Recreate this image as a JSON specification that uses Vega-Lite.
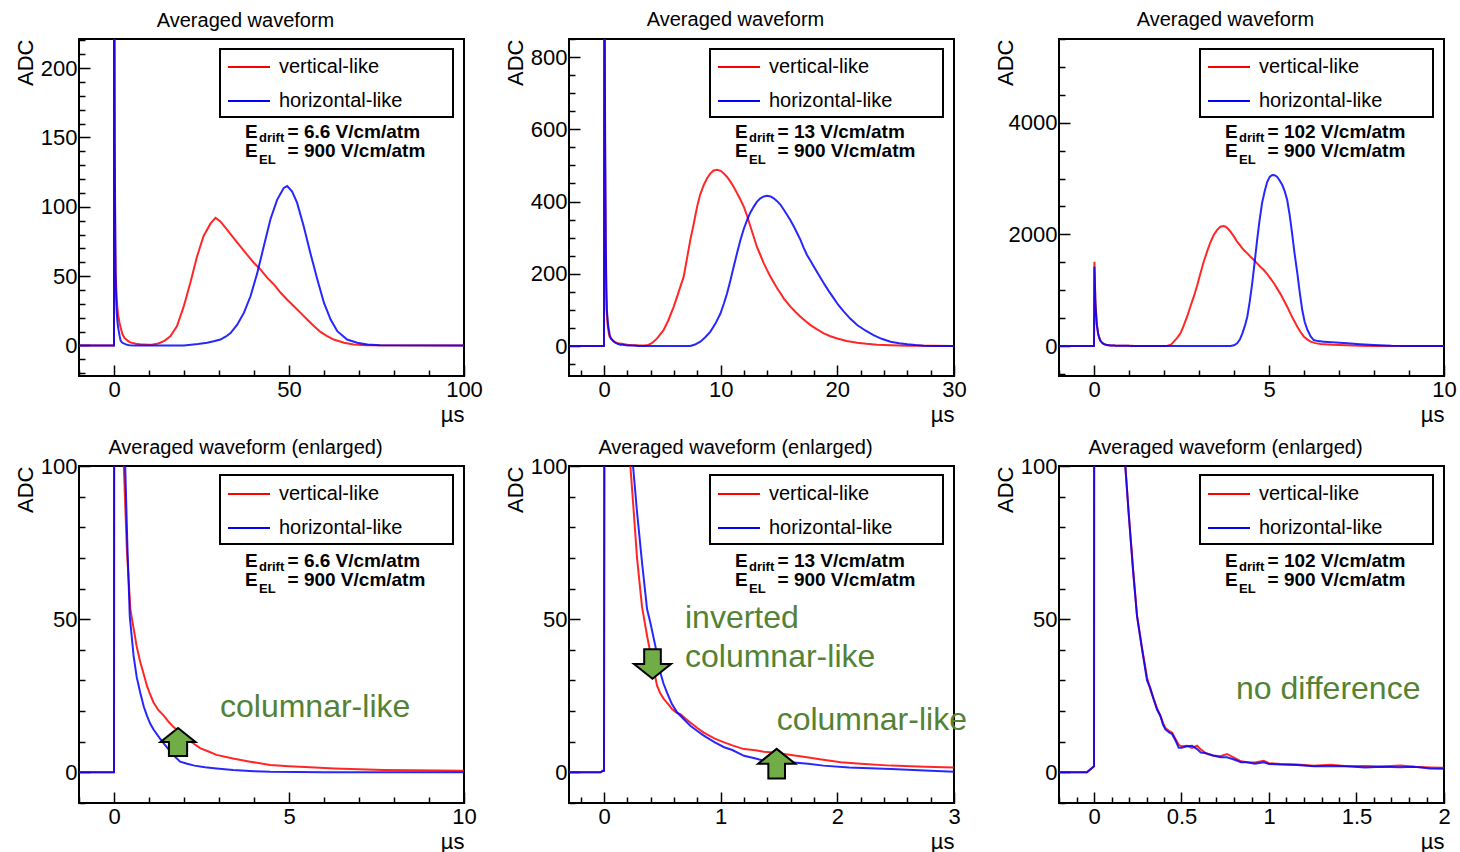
{
"$schema":"https://vega.github.io/schema/vega-lite/v6.json",
"background":"white",
"padding":{"left":13,"top":9,"right":10,"bottom":10},
"columns":3,
"spacing":{"row":90,"column":105},
"bounds":"flush",
"resolve":{"scale":{"color":"independent"},"legend":{"color":"independent"}},
"datasets":{
"f66":[
{"t":-10,"a":0,"s":"vertical-like"},{"t":0,"a":0,"s":"vertical-like"},{"t":0.02,"a":500,"s":"vertical-like"},{"t":0.1,"a":250,"s":"vertical-like"},{"t":0.2,"a":140,"s":"vertical-like"},{"t":0.28,"a":100,"s":"vertical-like"},{"t":0.37,"a":72,"s":"vertical-like"},{"t":0.47,"a":53,"s":"vertical-like"},{"t":0.56,"a":47,"s":"vertical-like"},{"t":0.65,"a":41,"s":"vertical-like"},{"t":0.75,"a":36,"s":"vertical-like"},{"t":0.85,"a":32,"s":"vertical-like"},{"t":0.94,"a":28.3,"s":"vertical-like"},{"t":1.03,"a":25.5,"s":"vertical-like"},{"t":1.13,"a":22.8,"s":"vertical-like"},{"t":1.27,"a":20.3,"s":"vertical-like"},{"t":1.41,"a":18.7,"s":"vertical-like"},{"t":1.56,"a":16.5,"s":"vertical-like"},{"t":1.71,"a":14.7,"s":"vertical-like"},{"t":1.98,"a":12.2,"s":"vertical-like"},{"t":2.2,"a":10,"s":"vertical-like"},{"t":2.46,"a":7.9,"s":"vertical-like"},{"t":2.7,"a":6.8,"s":"vertical-like"},{"t":2.93,"a":5.7,"s":"vertical-like"},{"t":3.4,"a":4.5,"s":"vertical-like"},{"t":3.89,"a":3.5,"s":"vertical-like"},{"t":4.46,"a":2.4,"s":"vertical-like"},{"t":5,"a":2,"s":"vertical-like"},{"t":5.6,"a":1.7,"s":"vertical-like"},{"t":6.3,"a":1.3,"s":"vertical-like"},{"t":7,"a":1,"s":"vertical-like"},{"t":7.7,"a":0.8,"s":"vertical-like"},{"t":8.5,"a":0.7,"s":"vertical-like"},{"t":10,"a":0.5,"s":"vertical-like"},{"t":11,"a":0.7,"s":"vertical-like"},{"t":12,"a":1,"s":"vertical-like"},{"t":13.2,"a":2,"s":"vertical-like"},{"t":14.5,"a":3.5,"s":"vertical-like"},{"t":16.1,"a":6.7,"s":"vertical-like"},{"t":18,"a":14,"s":"vertical-like"},{"t":19.9,"a":28,"s":"vertical-like"},{"t":21.8,"a":45,"s":"vertical-like"},{"t":23.7,"a":64,"s":"vertical-like"},{"t":25.6,"a":79,"s":"vertical-like"},{"t":27.6,"a":88,"s":"vertical-like"},{"t":29,"a":92,"s":"vertical-like"},{"t":30.4,"a":89.5,"s":"vertical-like"},{"t":32.3,"a":83.5,"s":"vertical-like"},{"t":34.2,"a":77.5,"s":"vertical-like"},{"t":36.1,"a":71.5,"s":"vertical-like"},{"t":38,"a":65.5,"s":"vertical-like"},{"t":40,"a":59.5,"s":"vertical-like"},{"t":41.9,"a":54.7,"s":"vertical-like"},{"t":43.8,"a":48.7,"s":"vertical-like"},{"t":45.7,"a":44,"s":"vertical-like"},{"t":47.6,"a":38,"s":"vertical-like"},{"t":49.5,"a":33,"s":"vertical-like"},{"t":51.4,"a":28.3,"s":"vertical-like"},{"t":53.3,"a":23.5,"s":"vertical-like"},{"t":55.2,"a":18.7,"s":"vertical-like"},{"t":57.1,"a":14,"s":"vertical-like"},{"t":59,"a":9.8,"s":"vertical-like"},{"t":60.9,"a":6.7,"s":"vertical-like"},{"t":62.8,"a":4.3,"s":"vertical-like"},{"t":65.7,"a":2,"s":"vertical-like"},{"t":68.5,"a":0.7,"s":"vertical-like"},{"t":72,"a":0.2,"s":"vertical-like"},{"t":100,"a":0,"s":"vertical-like"},
{"t":-10,"a":0,"s":"horizontal-like"},{"t":0,"a":0,"s":"horizontal-like"},{"t":0.02,"a":600,"s":"horizontal-like"},{"t":0.1,"a":300,"s":"horizontal-like"},{"t":0.2,"a":150,"s":"horizontal-like"},{"t":0.32,"a":100,"s":"horizontal-like"},{"t":0.38,"a":75,"s":"horizontal-like"},{"t":0.45,"a":51,"s":"horizontal-like"},{"t":0.56,"a":38,"s":"horizontal-like"},{"t":0.65,"a":31,"s":"horizontal-like"},{"t":0.75,"a":26,"s":"horizontal-like"},{"t":0.85,"a":21.5,"s":"horizontal-like"},{"t":0.94,"a":18.5,"s":"horizontal-like"},{"t":1.03,"a":16,"s":"horizontal-like"},{"t":1.13,"a":14,"s":"horizontal-like"},{"t":1.31,"a":11.1,"s":"horizontal-like"},{"t":1.42,"a":9.5,"s":"horizontal-like"},{"t":1.56,"a":7.5,"s":"horizontal-like"},{"t":1.71,"a":5.5,"s":"horizontal-like"},{"t":1.89,"a":3.5,"s":"horizontal-like"},{"t":2.09,"a":2.8,"s":"horizontal-like"},{"t":2.3,"a":2.2,"s":"horizontal-like"},{"t":2.6,"a":1.7,"s":"horizontal-like"},{"t":2.93,"a":1.3,"s":"horizontal-like"},{"t":3.4,"a":0.8,"s":"horizontal-like"},{"t":4,"a":0.4,"s":"horizontal-like"},{"t":4.46,"a":0.2,"s":"horizontal-like"},{"t":6,"a":0,"s":"horizontal-like"},{"t":20,"a":0,"s":"horizontal-like"},{"t":24,"a":1,"s":"horizontal-like"},{"t":26.6,"a":2,"s":"horizontal-like"},{"t":28.5,"a":3,"s":"horizontal-like"},{"t":30.4,"a":4.3,"s":"horizontal-like"},{"t":32,"a":6.5,"s":"horizontal-like"},{"t":33.3,"a":9,"s":"horizontal-like"},{"t":35.2,"a":15,"s":"horizontal-like"},{"t":37.1,"a":23.5,"s":"horizontal-like"},{"t":39,"a":35.5,"s":"horizontal-like"},{"t":40.9,"a":52,"s":"horizontal-like"},{"t":42.8,"a":71.5,"s":"horizontal-like"},{"t":44.7,"a":91,"s":"horizontal-like"},{"t":46.6,"a":105,"s":"horizontal-like"},{"t":48.5,"a":113.6,"s":"horizontal-like"},{"t":49.5,"a":115,"s":"horizontal-like"},{"t":50.9,"a":111,"s":"horizontal-like"},{"t":52.3,"a":103,"s":"horizontal-like"},{"t":54.2,"a":86,"s":"horizontal-like"},{"t":56.1,"a":66.7,"s":"horizontal-like"},{"t":58.1,"a":47.5,"s":"horizontal-like"},{"t":60,"a":30.7,"s":"horizontal-like"},{"t":61.9,"a":18.7,"s":"horizontal-like"},{"t":63.8,"a":10.3,"s":"horizontal-like"},{"t":66.6,"a":4.3,"s":"horizontal-like"},{"t":69.5,"a":2,"s":"horizontal-like"},{"t":72.4,"a":0.7,"s":"horizontal-like"},{"t":76,"a":0.2,"s":"horizontal-like"},{"t":100,"a":0,"s":"horizontal-like"}
],
"f13":[
{"t":-3,"a":0,"s":"vertical-like"},{"t":-0.03,"a":0,"s":"vertical-like"},{"t":-0.01,"a":0.5,"s":"vertical-like"},{"t":0,"a":0.5,"s":"vertical-like"},{"t":0.03,"a":1100,"s":"vertical-like"},{"t":0.1,"a":500,"s":"vertical-like"},{"t":0.15,"a":260,"s":"vertical-like"},{"t":0.2,"a":140,"s":"vertical-like"},{"t":0.226,"a":100,"s":"vertical-like"},{"t":0.255,"a":85,"s":"vertical-like"},{"t":0.283,"a":70,"s":"vertical-like"},{"t":0.326,"a":54,"s":"vertical-like"},{"t":0.369,"a":44.6,"s":"vertical-like"},{"t":0.417,"a":35.3,"s":"vertical-like"},{"t":0.455,"a":28.3,"s":"vertical-like"},{"t":0.48,"a":26,"s":"vertical-like"},{"t":0.512,"a":24,"s":"vertical-like"},{"t":0.545,"a":22.5,"s":"vertical-like"},{"t":0.583,"a":20.7,"s":"vertical-like"},{"t":0.62,"a":19.5,"s":"vertical-like"},{"t":0.655,"a":19,"s":"vertical-like"},{"t":0.7,"a":17.5,"s":"vertical-like"},{"t":0.74,"a":16.3,"s":"vertical-like"},{"t":0.8,"a":14.5,"s":"vertical-like"},{"t":0.855,"a":13,"s":"vertical-like"},{"t":0.95,"a":11,"s":"vertical-like"},{"t":1.03,"a":9.8,"s":"vertical-like"},{"t":1.1,"a":8.8,"s":"vertical-like"},{"t":1.2,"a":7.6,"s":"vertical-like"},{"t":1.3,"a":7.2,"s":"vertical-like"},{"t":1.37,"a":6.7,"s":"vertical-like"},{"t":1.45,"a":6.5,"s":"vertical-like"},{"t":1.54,"a":6,"s":"vertical-like"},{"t":1.65,"a":5.4,"s":"vertical-like"},{"t":1.74,"a":4.9,"s":"vertical-like"},{"t":1.85,"a":4.3,"s":"vertical-like"},{"t":2.03,"a":3.3,"s":"vertical-like"},{"t":2.2,"a":2.8,"s":"vertical-like"},{"t":2.46,"a":2.2,"s":"vertical-like"},{"t":2.75,"a":1.8,"s":"vertical-like"},{"t":3,"a":1.6,"s":"vertical-like"},{"t":3.4,"a":1.5,"s":"vertical-like"},{"t":3.7,"a":2,"s":"vertical-like"},{"t":4.1,"a":8,"s":"vertical-like"},{"t":4.55,"a":21,"s":"vertical-like"},{"t":5.1,"a":44,"s":"vertical-like"},{"t":5.5,"a":70,"s":"vertical-like"},{"t":5.98,"a":109,"s":"vertical-like"},{"t":6.4,"a":150,"s":"vertical-like"},{"t":6.83,"a":192,"s":"vertical-like"},{"t":7.1,"a":240,"s":"vertical-like"},{"t":7.4,"a":294,"s":"vertical-like"},{"t":7.7,"a":340,"s":"vertical-like"},{"t":7.98,"a":386,"s":"vertical-like"},{"t":8.25,"a":420,"s":"vertical-like"},{"t":8.55,"a":446,"s":"vertical-like"},{"t":8.85,"a":465,"s":"vertical-like"},{"t":9.12,"a":478,"s":"vertical-like"},{"t":9.4,"a":486,"s":"vertical-like"},{"t":9.7,"a":488,"s":"vertical-like"},{"t":10,"a":485,"s":"vertical-like"},{"t":10.27,"a":478,"s":"vertical-like"},{"t":10.55,"a":468,"s":"vertical-like"},{"t":10.84,"a":455,"s":"vertical-like"},{"t":11.12,"a":440,"s":"vertical-like"},{"t":11.41,"a":423,"s":"vertical-like"},{"t":11.7,"a":405,"s":"vertical-like"},{"t":11.98,"a":386,"s":"vertical-like"},{"t":12.27,"a":360,"s":"vertical-like"},{"t":12.55,"a":331,"s":"vertical-like"},{"t":12.84,"a":302,"s":"vertical-like"},{"t":13.1,"a":275,"s":"vertical-like"},{"t":13.4,"a":252,"s":"vertical-like"},{"t":13.7,"a":229,"s":"vertical-like"},{"t":13.98,"a":210,"s":"vertical-like"},{"t":14.27,"a":192,"s":"vertical-like"},{"t":14.55,"a":176,"s":"vertical-like"},{"t":14.84,"a":160,"s":"vertical-like"},{"t":15.13,"a":146,"s":"vertical-like"},{"t":15.4,"a":132,"s":"vertical-like"},{"t":15.7,"a":120,"s":"vertical-like"},{"t":15.98,"a":109,"s":"vertical-like"},{"t":16.4,"a":95,"s":"vertical-like"},{"t":16.84,"a":81,"s":"vertical-like"},{"t":17.27,"a":69,"s":"vertical-like"},{"t":17.7,"a":58,"s":"vertical-like"},{"t":18.27,"a":46,"s":"vertical-like"},{"t":18.84,"a":35,"s":"vertical-like"},{"t":19.4,"a":27,"s":"vertical-like"},{"t":20,"a":21,"s":"vertical-like"},{"t":20.8,"a":14,"s":"vertical-like"},{"t":21.7,"a":9,"s":"vertical-like"},{"t":22.5,"a":6,"s":"vertical-like"},{"t":23.4,"a":3.7,"s":"vertical-like"},{"t":24.6,"a":2,"s":"vertical-like"},{"t":26,"a":1,"s":"vertical-like"},{"t":28,"a":0.5,"s":"vertical-like"},{"t":30,"a":0,"s":"vertical-like"},
{"t":-3,"a":0,"s":"horizontal-like"},{"t":-0.03,"a":0,"s":"horizontal-like"},{"t":-0.01,"a":0.5,"s":"horizontal-like"},{"t":0,"a":0.5,"s":"horizontal-like"},{"t":0.03,"a":1200,"s":"horizontal-like"},{"t":0.1,"a":560,"s":"horizontal-like"},{"t":0.15,"a":300,"s":"horizontal-like"},{"t":0.2,"a":160,"s":"horizontal-like"},{"t":0.249,"a":100,"s":"horizontal-like"},{"t":0.283,"a":85,"s":"horizontal-like"},{"t":0.326,"a":68.5,"s":"horizontal-like"},{"t":0.369,"a":53.3,"s":"horizontal-like"},{"t":0.397,"a":48.9,"s":"horizontal-like"},{"t":0.44,"a":41.3,"s":"horizontal-like"},{"t":0.483,"a":32.6,"s":"horizontal-like"},{"t":0.51,"a":29,"s":"horizontal-like"},{"t":0.54,"a":26,"s":"horizontal-like"},{"t":0.58,"a":22.5,"s":"horizontal-like"},{"t":0.626,"a":19.6,"s":"horizontal-like"},{"t":0.68,"a":17.5,"s":"horizontal-like"},{"t":0.74,"a":15.2,"s":"horizontal-like"},{"t":0.8,"a":13.5,"s":"horizontal-like"},{"t":0.855,"a":12,"s":"horizontal-like"},{"t":0.95,"a":9.8,"s":"horizontal-like"},{"t":1.03,"a":8.2,"s":"horizontal-like"},{"t":1.1,"a":7.3,"s":"horizontal-like"},{"t":1.2,"a":5.4,"s":"horizontal-like"},{"t":1.3,"a":4.5,"s":"horizontal-like"},{"t":1.37,"a":3.8,"s":"horizontal-like"},{"t":1.45,"a":3.5,"s":"horizontal-like"},{"t":1.6,"a":3.3,"s":"horizontal-like"},{"t":1.75,"a":2.8,"s":"horizontal-like"},{"t":1.88,"a":2.2,"s":"horizontal-like"},{"t":2.1,"a":1.6,"s":"horizontal-like"},{"t":2.46,"a":1.1,"s":"horizontal-like"},{"t":2.75,"a":0.6,"s":"horizontal-like"},{"t":3,"a":0.2,"s":"horizontal-like"},{"t":4,"a":0,"s":"horizontal-like"},{"t":7.4,"a":0,"s":"horizontal-like"},{"t":7.8,"a":4,"s":"horizontal-like"},{"t":8.26,"a":12,"s":"horizontal-like"},{"t":8.7,"a":25,"s":"horizontal-like"},{"t":9.12,"a":40,"s":"horizontal-like"},{"t":9.55,"a":62,"s":"horizontal-like"},{"t":9.98,"a":90,"s":"horizontal-like"},{"t":10.27,"a":117,"s":"horizontal-like"},{"t":10.55,"a":146,"s":"horizontal-like"},{"t":10.84,"a":182,"s":"horizontal-like"},{"t":11.12,"a":220,"s":"horizontal-like"},{"t":11.41,"a":258,"s":"horizontal-like"},{"t":11.7,"a":294,"s":"horizontal-like"},{"t":11.98,"a":324,"s":"horizontal-like"},{"t":12.27,"a":349,"s":"horizontal-like"},{"t":12.55,"a":370,"s":"horizontal-like"},{"t":12.84,"a":386,"s":"horizontal-like"},{"t":13.1,"a":399,"s":"horizontal-like"},{"t":13.4,"a":409,"s":"horizontal-like"},{"t":13.7,"a":414,"s":"horizontal-like"},{"t":13.98,"a":416,"s":"horizontal-like"},{"t":14.27,"a":414,"s":"horizontal-like"},{"t":14.55,"a":409,"s":"horizontal-like"},{"t":14.84,"a":401,"s":"horizontal-like"},{"t":15.13,"a":391,"s":"horizontal-like"},{"t":15.4,"a":378,"s":"horizontal-like"},{"t":15.7,"a":363,"s":"horizontal-like"},{"t":15.98,"a":348,"s":"horizontal-like"},{"t":16.27,"a":331,"s":"horizontal-like"},{"t":16.55,"a":313,"s":"horizontal-like"},{"t":16.84,"a":294,"s":"horizontal-like"},{"t":17.1,"a":273,"s":"horizontal-like"},{"t":17.4,"a":252,"s":"horizontal-like"},{"t":17.7,"a":236,"s":"horizontal-like"},{"t":17.98,"a":220,"s":"horizontal-like"},{"t":18.4,"a":197,"s":"horizontal-like"},{"t":18.84,"a":174,"s":"horizontal-like"},{"t":19.27,"a":152,"s":"horizontal-like"},{"t":19.7,"a":132,"s":"horizontal-like"},{"t":20.1,"a":113,"s":"horizontal-like"},{"t":20.56,"a":95,"s":"horizontal-like"},{"t":21.1,"a":76,"s":"horizontal-like"},{"t":21.7,"a":58,"s":"horizontal-like"},{"t":22.4,"a":43,"s":"horizontal-like"},{"t":23.1,"a":30,"s":"horizontal-like"},{"t":23.8,"a":20,"s":"horizontal-like"},{"t":24.56,"a":12,"s":"horizontal-like"},{"t":25.3,"a":7.5,"s":"horizontal-like"},{"t":26,"a":4.6,"s":"horizontal-like"},{"t":26.7,"a":2.5,"s":"horizontal-like"},{"t":27.4,"a":1,"s":"horizontal-like"},{"t":28.5,"a":0.3,"s":"horizontal-like"},{"t":30,"a":0,"s":"horizontal-like"}
],
"f102":[
{"t":-1,"a":0,"s":"vertical-like"},{"t":-0.04,"a":0,"s":"vertical-like"},{"t":-0.01,"a":1.5,"s":"vertical-like"},{"t":0,"a":2,"s":"vertical-like"},{"t":0.012,"a":1510,"s":"vertical-like"},{"t":0.04,"a":800,"s":"vertical-like"},{"t":0.08,"a":400,"s":"vertical-like"},{"t":0.12,"a":220,"s":"vertical-like"},{"t":0.15,"a":150,"s":"vertical-like"},{"t":0.179,"a":100,"s":"vertical-like"},{"t":0.198,"a":85,"s":"vertical-like"},{"t":0.223,"a":66.5,"s":"vertical-like"},{"t":0.246,"a":51,"s":"vertical-like"},{"t":0.275,"a":40.5,"s":"vertical-like"},{"t":0.303,"a":31,"s":"vertical-like"},{"t":0.322,"a":27,"s":"vertical-like"},{"t":0.341,"a":24,"s":"vertical-like"},{"t":0.36,"a":21,"s":"vertical-like"},{"t":0.379,"a":18.5,"s":"vertical-like"},{"t":0.395,"a":16,"s":"vertical-like"},{"t":0.408,"a":14.5,"s":"vertical-like"},{"t":0.43,"a":13.5,"s":"vertical-like"},{"t":0.446,"a":13,"s":"vertical-like"},{"t":0.465,"a":11,"s":"vertical-like"},{"t":0.484,"a":9,"s":"vertical-like"},{"t":0.5,"a":8.5,"s":"vertical-like"},{"t":0.532,"a":8.7,"s":"vertical-like"},{"t":0.56,"a":8,"s":"vertical-like"},{"t":0.589,"a":8.7,"s":"vertical-like"},{"t":0.61,"a":7.5,"s":"vertical-like"},{"t":0.646,"a":6,"s":"vertical-like"},{"t":0.68,"a":5.5,"s":"vertical-like"},{"t":0.723,"a":5.3,"s":"vertical-like"},{"t":0.76,"a":6,"s":"vertical-like"},{"t":0.8,"a":4.8,"s":"vertical-like"},{"t":0.84,"a":3.6,"s":"vertical-like"},{"t":0.875,"a":3.3,"s":"vertical-like"},{"t":0.92,"a":3.2,"s":"vertical-like"},{"t":0.97,"a":3.8,"s":"vertical-like"},{"t":1,"a":3,"s":"vertical-like"},{"t":1.066,"a":2.7,"s":"vertical-like"},{"t":1.16,"a":2.6,"s":"vertical-like"},{"t":1.256,"a":2.2,"s":"vertical-like"},{"t":1.35,"a":2.5,"s":"vertical-like"},{"t":1.447,"a":2,"s":"vertical-like"},{"t":1.55,"a":2.1,"s":"vertical-like"},{"t":1.64,"a":1.9,"s":"vertical-like"},{"t":1.75,"a":2.2,"s":"vertical-like"},{"t":1.83,"a":1.8,"s":"vertical-like"},{"t":1.92,"a":1.6,"s":"vertical-like"},{"t":2,"a":1.5,"s":"vertical-like"},{"t":2.1,"a":5,"s":"vertical-like"},{"t":2.2,"a":25,"s":"vertical-like"},{"t":2.28,"a":78,"s":"vertical-like"},{"t":2.37,"a":140,"s":"vertical-like"},{"t":2.47,"a":227,"s":"vertical-like"},{"t":2.56,"a":360,"s":"vertical-like"},{"t":2.66,"a":525,"s":"vertical-like"},{"t":2.75,"a":700,"s":"vertical-like"},{"t":2.85,"a":884,"s":"vertical-like"},{"t":2.95,"a":1090,"s":"vertical-like"},{"t":3.04,"a":1301,"s":"vertical-like"},{"t":3.13,"a":1500,"s":"vertical-like"},{"t":3.23,"a":1690,"s":"vertical-like"},{"t":3.32,"a":1850,"s":"vertical-like"},{"t":3.42,"a":1988,"s":"vertical-like"},{"t":3.52,"a":2080,"s":"vertical-like"},{"t":3.61,"a":2137,"s":"vertical-like"},{"t":3.7,"a":2150,"s":"vertical-like"},{"t":3.76,"a":2137,"s":"vertical-like"},{"t":3.83,"a":2100,"s":"vertical-like"},{"t":3.9,"a":2048,"s":"vertical-like"},{"t":4,"a":1960,"s":"vertical-like"},{"t":4.09,"a":1869,"s":"vertical-like"},{"t":4.19,"a":1790,"s":"vertical-like"},{"t":4.28,"a":1719,"s":"vertical-like"},{"t":4.38,"a":1660,"s":"vertical-like"},{"t":4.47,"a":1600,"s":"vertical-like"},{"t":4.57,"a":1540,"s":"vertical-like"},{"t":4.66,"a":1481,"s":"vertical-like"},{"t":4.75,"a":1420,"s":"vertical-like"},{"t":4.85,"a":1361,"s":"vertical-like"},{"t":4.95,"a":1290,"s":"vertical-like"},{"t":5.04,"a":1212,"s":"vertical-like"},{"t":5.14,"a":1125,"s":"vertical-like"},{"t":5.23,"a":1033,"s":"vertical-like"},{"t":5.33,"a":930,"s":"vertical-like"},{"t":5.42,"a":824,"s":"vertical-like"},{"t":5.52,"a":705,"s":"vertical-like"},{"t":5.61,"a":585,"s":"vertical-like"},{"t":5.71,"a":460,"s":"vertical-like"},{"t":5.81,"a":346,"s":"vertical-like"},{"t":5.9,"a":250,"s":"vertical-like"},{"t":6,"a":167,"s":"vertical-like"},{"t":6.1,"a":115,"s":"vertical-like"},{"t":6.19,"a":78,"s":"vertical-like"},{"t":6.33,"a":52,"s":"vertical-like"},{"t":6.47,"a":36,"s":"vertical-like"},{"t":6.8,"a":22,"s":"vertical-like"},{"t":7.2,"a":12,"s":"vertical-like"},{"t":7.6,"a":6,"s":"vertical-like"},{"t":8,"a":2,"s":"vertical-like"},{"t":8.5,"a":0,"s":"vertical-like"},{"t":10,"a":0,"s":"vertical-like"},
{"t":-1,"a":0,"s":"horizontal-like"},{"t":-0.04,"a":0,"s":"horizontal-like"},{"t":-0.01,"a":1.5,"s":"horizontal-like"},{"t":0,"a":2,"s":"horizontal-like"},{"t":0.012,"a":1420,"s":"horizontal-like"},{"t":0.04,"a":760,"s":"horizontal-like"},{"t":0.08,"a":380,"s":"horizontal-like"},{"t":0.12,"a":210,"s":"horizontal-like"},{"t":0.15,"a":145,"s":"horizontal-like"},{"t":0.179,"a":100,"s":"horizontal-like"},{"t":0.198,"a":84.5,"s":"horizontal-like"},{"t":0.223,"a":66,"s":"horizontal-like"},{"t":0.246,"a":51,"s":"horizontal-like"},{"t":0.275,"a":40,"s":"horizontal-like"},{"t":0.303,"a":30,"s":"horizontal-like"},{"t":0.322,"a":27.5,"s":"horizontal-like"},{"t":0.341,"a":23.8,"s":"horizontal-like"},{"t":0.36,"a":20.5,"s":"horizontal-like"},{"t":0.379,"a":18.5,"s":"horizontal-like"},{"t":0.395,"a":15.5,"s":"horizontal-like"},{"t":0.408,"a":14,"s":"horizontal-like"},{"t":0.43,"a":13,"s":"horizontal-like"},{"t":0.446,"a":12.5,"s":"horizontal-like"},{"t":0.465,"a":10.5,"s":"horizontal-like"},{"t":0.484,"a":8,"s":"horizontal-like"},{"t":0.5,"a":8,"s":"horizontal-like"},{"t":0.532,"a":8.5,"s":"horizontal-like"},{"t":0.56,"a":8.7,"s":"horizontal-like"},{"t":0.589,"a":7.6,"s":"horizontal-like"},{"t":0.61,"a":6.5,"s":"horizontal-like"},{"t":0.646,"a":6.2,"s":"horizontal-like"},{"t":0.68,"a":5.5,"s":"horizontal-like"},{"t":0.723,"a":4.9,"s":"horizontal-like"},{"t":0.76,"a":4.9,"s":"horizontal-like"},{"t":0.8,"a":4.2,"s":"horizontal-like"},{"t":0.84,"a":3.3,"s":"horizontal-like"},{"t":0.875,"a":3.3,"s":"horizontal-like"},{"t":0.92,"a":2.8,"s":"horizontal-like"},{"t":0.97,"a":3.3,"s":"horizontal-like"},{"t":1,"a":2.7,"s":"horizontal-like"},{"t":1.066,"a":2.6,"s":"horizontal-like"},{"t":1.16,"a":2.4,"s":"horizontal-like"},{"t":1.256,"a":2,"s":"horizontal-like"},{"t":1.35,"a":2.1,"s":"horizontal-like"},{"t":1.447,"a":2,"s":"horizontal-like"},{"t":1.55,"a":1.6,"s":"horizontal-like"},{"t":1.64,"a":1.8,"s":"horizontal-like"},{"t":1.75,"a":1.7,"s":"horizontal-like"},{"t":1.83,"a":1.8,"s":"horizontal-like"},{"t":1.92,"a":1.3,"s":"horizontal-like"},{"t":2,"a":1.2,"s":"horizontal-like"},{"t":2.5,"a":0.6,"s":"horizontal-like"},{"t":3,"a":0.3,"s":"horizontal-like"},{"t":3.9,"a":0,"s":"horizontal-like"},{"t":4,"a":12,"s":"horizontal-like"},{"t":4.09,"a":48,"s":"horizontal-like"},{"t":4.17,"a":120,"s":"horizontal-like"},{"t":4.24,"a":227,"s":"horizontal-like"},{"t":4.31,"a":360,"s":"horizontal-like"},{"t":4.38,"a":525,"s":"horizontal-like"},{"t":4.45,"a":800,"s":"horizontal-like"},{"t":4.52,"a":1122,"s":"horizontal-like"},{"t":4.59,"a":1500,"s":"horizontal-like"},{"t":4.66,"a":1898,"s":"horizontal-like"},{"t":4.73,"a":2250,"s":"horizontal-like"},{"t":4.8,"a":2555,"s":"horizontal-like"},{"t":4.88,"a":2780,"s":"horizontal-like"},{"t":4.95,"a":2943,"s":"horizontal-like"},{"t":5.02,"a":3030,"s":"horizontal-like"},{"t":5.09,"a":3063,"s":"horizontal-like"},{"t":5.16,"a":3060,"s":"horizontal-like"},{"t":5.23,"a":3033,"s":"horizontal-like"},{"t":5.3,"a":2970,"s":"horizontal-like"},{"t":5.38,"a":2884,"s":"horizontal-like"},{"t":5.45,"a":2770,"s":"horizontal-like"},{"t":5.52,"a":2615,"s":"horizontal-like"},{"t":5.59,"a":2350,"s":"horizontal-like"},{"t":5.66,"a":2018,"s":"horizontal-like"},{"t":5.73,"a":1660,"s":"horizontal-like"},{"t":5.81,"a":1301,"s":"horizontal-like"},{"t":5.88,"a":950,"s":"horizontal-like"},{"t":5.95,"a":645,"s":"horizontal-like"},{"t":6.02,"a":430,"s":"horizontal-like"},{"t":6.1,"a":287,"s":"horizontal-like"},{"t":6.19,"a":170,"s":"horizontal-like"},{"t":6.28,"a":107,"s":"horizontal-like"},{"t":6.4,"a":88,"s":"horizontal-like"},{"t":6.57,"a":78,"s":"horizontal-like"},{"t":6.9,"a":62,"s":"horizontal-like"},{"t":7.24,"a":48,"s":"horizontal-like"},{"t":7.6,"a":32,"s":"horizontal-like"},{"t":8,"a":18,"s":"horizontal-like"},{"t":8.5,"a":5,"s":"horizontal-like"},{"t":9,"a":0,"s":"horizontal-like"},{"t":10,"a":0,"s":"horizontal-like"}
]
},
"concat":[
{"title":"Averaged waveform","width":385,"height":337,"layer":[
 {"data":{"name":"f66"},"mark":{"type":"line","clip":true,"strokeWidth":2,"strokeOpacity":0.85},
  "encoding":{
   "x":{"field":"t","type":"quantitative","scale":{"domain":[-10,100],"nice":false,"zero":false},"axis":{"title":"µs","tickCount":500,"labelOverlap":false,"values":[-10,0,10,20,30,40,50,60,70,80,90,100],"labelExpr":"indexof([0,50,100], datum.value) >= 0 ? '' + datum.value : ''","labelFontSize":{"condition":{"test":"indexof([0,50,100], datum.value) >= 0","value":22},"value":0},"tickSize":{"condition":{"test":"indexof([0,50,100], datum.value) >= 0","value":-11},"value":-6}}},
   "y":{"field":"a","type":"quantitative","scale":{"domain":[-22,221],"nice":false,"zero":false},"axis":{"title":"ADC","tickCount":500,"labelOverlap":false,"values":[-20,-10,0,10,20,30,40,50,60,70,80,90,100,110,120,130,140,150,160,170,180,190,200,210,220],"labelExpr":"indexof([0,50,100,150,200], datum.value) >= 0 ? '' + datum.value : ''","labelFontSize":{"condition":{"test":"indexof([0,50,100,150,200], datum.value) >= 0","value":22},"value":0},"tickSize":{"condition":{"test":"indexof([0,50,100,150,200], datum.value) >= 0","value":-11},"value":-6}}},
   "color":{"field":"s","type":"nominal","scale":{"domain":["vertical-like","horizontal-like"],"range":["#ff0000","#0000ff"]},"legend":{"title":null,"orient":"none","legendX":141,"legendY":8,"symbolType":"M-1.4,0H1.4","symbolSize":900,"symbolStrokeWidth":2,"labelFontSize":20,"labelLimit":400,"labelOffset":14,"symbolOffset":9,"padding":4,"rowPadding":8,"strokeColor":"transparent","fillColor":"transparent"}}}},
 {"data":{"values":[{}]},"mark":{"type":"rect","fill":"#fff","stroke":"#000","strokeWidth":2},"encoding":{"x":{"datum":30.29},"x2":{"datum":96.86},"y":{"datum":213.79},"y2":{"datum":164.76}}},
 {"data":{"values":[{}]},"mark":{"type":"text","text":["E","E"],"fontSize":19,"fontWeight":"bold","align":"left","baseline":"alphabetic","lineHeight":19},"encoding":{"x":{"datum":37.43},"y":{"datum":149.8}}},
 {"data":{"values":[{}]},"mark":{"type":"text","text":["drift","EL"],"fontSize":13,"fontWeight":"bold","align":"left","baseline":"alphabetic","lineHeight":22,"dx":14,"dy":4},"encoding":{"x":{"datum":37.43},"y":{"datum":149.8}}},
 {"data":{"values":[{}]},"mark":{"type":"text","text":["= 6.6 V/cm/atm","= 900 V/cm/atm"],"fontSize":19,"fontWeight":"bold","align":"left","baseline":"alphabetic","lineHeight":19,"dx":42.5},"encoding":{"x":{"datum":37.43},"y":{"datum":149.8}}}
]},
{"title":"Averaged waveform","width":385,"height":337,"layer":[
 {"data":{"name":"f13"},"mark":{"type":"line","clip":true,"strokeWidth":2,"strokeOpacity":0.85},
  "encoding":{
   "x":{"field":"t","type":"quantitative","scale":{"domain":[-3,30],"nice":false,"zero":false},"axis":{"title":"µs","tickCount":500,"labelOverlap":false,"values":[-2,0,2,4,6,8,10,12,14,16,18,20,22,24,26,28,30],"labelExpr":"indexof([0,10,20,30], datum.value) >= 0 ? '' + datum.value : ''","labelFontSize":{"condition":{"test":"indexof([0,10,20,30], datum.value) >= 0","value":22},"value":0},"tickSize":{"condition":{"test":"indexof([0,10,20,30], datum.value) >= 0","value":-11},"value":-6}}},
   "y":{"field":"a","type":"quantitative","scale":{"domain":[-83,850],"nice":false,"zero":false},"axis":{"title":"ADC","tickCount":500,"labelOverlap":false,"values":[-50,0,50,100,150,200,250,300,350,400,450,500,550,600,650,700,750,800,850],"labelExpr":"indexof([0,200,400,600,800], datum.value) >= 0 ? '' + datum.value : ''","labelFontSize":{"condition":{"test":"indexof([0,200,400,600,800], datum.value) >= 0","value":22},"value":0},"tickSize":{"condition":{"test":"indexof([0,200,400,600,800], datum.value) >= 0","value":-11},"value":-6}}},
   "color":{"field":"s","type":"nominal","scale":{"domain":["vertical-like","horizontal-like"],"range":["#ff0000","#0000ff"]},"legend":{"title":null,"orient":"none","legendX":141,"legendY":8,"symbolType":"M-1.4,0H1.4","symbolSize":900,"symbolStrokeWidth":2,"labelFontSize":20,"labelLimit":400,"labelOffset":14,"symbolOffset":9,"padding":4,"rowPadding":8,"strokeColor":"transparent","fillColor":"transparent"}}}},
 {"data":{"values":[{}]},"mark":{"type":"rect","fill":"#fff","stroke":"#000","strokeWidth":2},"encoding":{"x":{"datum":9.086},"x2":{"datum":29.057},"y":{"datum":822.31},"y2":{"datum":634.05}}},
 {"data":{"values":[{}]},"mark":{"type":"text","text":["E","E"],"fontSize":19,"fontWeight":"bold","align":"left","baseline":"alphabetic","lineHeight":19},"encoding":{"x":{"datum":11.23},"y":{"datum":576.7}}},
 {"data":{"values":[{}]},"mark":{"type":"text","text":["drift","EL"],"fontSize":13,"fontWeight":"bold","align":"left","baseline":"alphabetic","lineHeight":22,"dx":14,"dy":4},"encoding":{"x":{"datum":11.23},"y":{"datum":576.7}}},
 {"data":{"values":[{}]},"mark":{"type":"text","text":["= 13 V/cm/atm","= 900 V/cm/atm"],"fontSize":19,"fontWeight":"bold","align":"left","baseline":"alphabetic","lineHeight":19,"dx":42.5},"encoding":{"x":{"datum":11.23},"y":{"datum":576.7}}}
]},
{"title":"Averaged waveform","width":385,"height":337,"layer":[
 {"data":{"name":"f102"},"mark":{"type":"line","clip":true,"strokeWidth":2,"strokeOpacity":0.85},
  "encoding":{
   "x":{"field":"t","type":"quantitative","scale":{"domain":[-1,10],"nice":false,"zero":false},"axis":{"title":"µs","tickCount":500,"labelOverlap":false,"values":[-1,0,1,2,3,4,5,6,7,8,9,10],"labelExpr":"indexof([0,5,10], datum.value) >= 0 ? '' + datum.value : ''","labelFontSize":{"condition":{"test":"indexof([0,5,10], datum.value) >= 0","value":22},"value":0},"tickSize":{"condition":{"test":"indexof([0,5,10], datum.value) >= 0","value":-11},"value":-6}}},
   "y":{"field":"a","type":"quantitative","scale":{"domain":[-537,5500],"nice":false,"zero":false},"axis":{"title":"ADC","tickCount":500,"labelOverlap":false,"values":[-500,0,500,1000,1500,2000,2500,3000,3500,4000,4500,5000,5500],"labelExpr":"indexof([0,2000,4000], datum.value) >= 0 ? '' + datum.value : ''","labelFontSize":{"condition":{"test":"indexof([0,2000,4000], datum.value) >= 0","value":22},"value":0},"tickSize":{"condition":{"test":"indexof([0,2000,4000], datum.value) >= 0","value":-11},"value":-6}}},
   "color":{"field":"s","type":"nominal","scale":{"domain":["vertical-like","horizontal-like"],"range":["#ff0000","#0000ff"]},"legend":{"title":null,"orient":"none","legendX":141,"legendY":8,"symbolType":"M-1.4,0H1.4","symbolSize":900,"symbolStrokeWidth":2,"labelFontSize":20,"labelLimit":400,"labelOffset":14,"symbolOffset":9,"padding":4,"rowPadding":8,"strokeColor":"transparent","fillColor":"transparent"}}}},
 {"data":{"values":[{}]},"mark":{"type":"rect","fill":"#fff","stroke":"#000","strokeWidth":2},"encoding":{"x":{"datum":3.0286},"x2":{"datum":9.6857},"y":{"datum":5320.86},"y2":{"datum":4102.7}}},
 {"data":{"values":[{}]},"mark":{"type":"text","text":["E","E"],"fontSize":19,"fontWeight":"bold","align":"left","baseline":"alphabetic","lineHeight":19},"encoding":{"x":{"datum":3.743},"y":{"datum":3732}}},
 {"data":{"values":[{}]},"mark":{"type":"text","text":["drift","EL"],"fontSize":13,"fontWeight":"bold","align":"left","baseline":"alphabetic","lineHeight":22,"dx":14,"dy":4},"encoding":{"x":{"datum":3.743},"y":{"datum":3732}}},
 {"data":{"values":[{}]},"mark":{"type":"text","text":["= 102 V/cm/atm","= 900 V/cm/atm"],"fontSize":19,"fontWeight":"bold","align":"left","baseline":"alphabetic","lineHeight":19,"dx":42.5},"encoding":{"x":{"datum":3.743},"y":{"datum":3732}}}
]},
{"title":{"text":"Averaged waveform (enlarged)","offset":-3},"width":385,"height":337,"layer":[
 {"data":{"name":"f66"},"mark":{"type":"line","clip":true,"strokeWidth":2,"strokeOpacity":0.85},
  "encoding":{
   "x":{"field":"t","type":"quantitative","scale":{"domain":[-1,10],"nice":false,"zero":false},"axis":{"title":"µs","tickCount":500,"labelOverlap":false,"values":[-1,0,1,2,3,4,5,6,7,8,9,10],"labelExpr":"indexof([0,5,10], datum.value) >= 0 ? '' + datum.value : ''","labelFontSize":{"condition":{"test":"indexof([0,5,10], datum.value) >= 0","value":22},"value":0},"tickSize":{"condition":{"test":"indexof([0,5,10], datum.value) >= 0","value":-11},"value":-6}}},
   "y":{"field":"a","type":"quantitative","scale":{"domain":[-10,100],"nice":false,"zero":false},"axis":{"title":"ADC","tickCount":500,"labelOverlap":false,"values":[-10,0,10,20,30,40,50,60,70,80,90,100],"labelExpr":"indexof([0,50,100], datum.value) >= 0 ? '' + datum.value : ''","labelFontSize":{"condition":{"test":"indexof([0,50,100], datum.value) >= 0","value":22},"value":0},"tickSize":{"condition":{"test":"indexof([0,50,100], datum.value) >= 0","value":-11},"value":-6}}},
   "color":{"field":"s","type":"nominal","scale":{"domain":["vertical-like","horizontal-like"],"range":["#ff0000","#0000ff"]},"legend":{"title":null,"orient":"none","legendX":141,"legendY":8,"symbolType":"M-1.4,0H1.4","symbolSize":900,"symbolStrokeWidth":2,"labelFontSize":20,"labelLimit":400,"labelOffset":14,"symbolOffset":9,"padding":4,"rowPadding":8,"strokeColor":"transparent","fillColor":"transparent"}}}},
 {"data":{"values":[{}]},"mark":{"type":"rect","fill":"#fff","stroke":"#000","strokeWidth":2},"encoding":{"x":{"datum":3.0286},"x2":{"datum":9.6857},"y":{"datum":97.06},"y2":{"datum":74.54}}},
 {"data":{"values":[{}]},"mark":{"type":"text","text":["E","E"],"fontSize":19,"fontWeight":"bold","align":"left","baseline":"alphabetic","lineHeight":19.5},"encoding":{"x":{"datum":3.743},"y":{"datum":67.13}}},
 {"data":{"values":[{}]},"mark":{"type":"text","text":["drift","EL"],"fontSize":13,"fontWeight":"bold","align":"left","baseline":"alphabetic","lineHeight":22.5,"dx":14,"dy":4},"encoding":{"x":{"datum":3.743},"y":{"datum":67.13}}},
 {"data":{"values":[{}]},"mark":{"type":"text","text":["= 6.6 V/cm/atm","= 900 V/cm/atm"],"fontSize":19,"fontWeight":"bold","align":"left","baseline":"alphabetic","lineHeight":19.5,"dx":42.5},"encoding":{"x":{"datum":3.743},"y":{"datum":67.13}}},
 {"data":{"values":[{}]},"mark":{"type":"text","text":"columnar-like","fontSize":32,"fill":"#548235","align":"left","baseline":"alphabetic"},"encoding":{"x":{"datum":3.029},"y":{"datum":18.17}}},
 {"data":{"values":[{}]},"mark":{"type":"point","shape":"M0,-0.8L1,0L0.52,0L0.52,0.8L-0.52,0.8L-0.52,0L-1,0Z","size":1225,"filled":true,"fill":"#70ad47","stroke":"#000","strokeWidth":2,"opacity":1},"encoding":{"x":{"datum":1.829},"y":{"datum":9.91}}}
]},
{"title":{"text":"Averaged waveform (enlarged)","offset":-3},"width":385,"height":337,"layer":[
 {"data":{"name":"f13"},"mark":{"type":"line","clip":true,"strokeWidth":2,"strokeOpacity":0.85},
  "encoding":{
   "x":{"field":"t","type":"quantitative","scale":{"domain":[-0.3,3],"nice":false,"zero":false},"axis":{"title":"µs","tickCount":500,"labelOverlap":false,"values":[-0.2,0,0.2,0.4,0.6,0.8,1,1.2,1.4,1.6,1.8,2,2.2,2.4,2.6,2.8,3],"labelExpr":"indexof([0,1,2,3], datum.value) >= 0 ? '' + datum.value : ''","labelFontSize":{"condition":{"test":"indexof([0,1,2,3], datum.value) >= 0","value":22},"value":0},"tickSize":{"condition":{"test":"indexof([0,1,2,3], datum.value) >= 0","value":-11},"value":-6}}},
   "y":{"field":"a","type":"quantitative","scale":{"domain":[-10,100],"nice":false,"zero":false},"axis":{"title":"ADC","tickCount":500,"labelOverlap":false,"values":[-10,0,10,20,30,40,50,60,70,80,90,100],"labelExpr":"indexof([0,50,100], datum.value) >= 0 ? '' + datum.value : ''","labelFontSize":{"condition":{"test":"indexof([0,50,100], datum.value) >= 0","value":22},"value":0},"tickSize":{"condition":{"test":"indexof([0,50,100], datum.value) >= 0","value":-11},"value":-6}}},
   "color":{"field":"s","type":"nominal","scale":{"domain":["vertical-like","horizontal-like"],"range":["#ff0000","#0000ff"]},"legend":{"title":null,"orient":"none","legendX":141,"legendY":8,"symbolType":"M-1.4,0H1.4","symbolSize":900,"symbolStrokeWidth":2,"labelFontSize":20,"labelLimit":400,"labelOffset":14,"symbolOffset":9,"padding":4,"rowPadding":8,"strokeColor":"transparent","fillColor":"transparent"}}}},
 {"data":{"values":[{}]},"mark":{"type":"rect","fill":"#fff","stroke":"#000","strokeWidth":2},"encoding":{"x":{"datum":0.9086},"x2":{"datum":2.9057},"y":{"datum":97.06},"y2":{"datum":74.54}}},
 {"data":{"values":[{}]},"mark":{"type":"text","text":["E","E"],"fontSize":19,"fontWeight":"bold","align":"left","baseline":"alphabetic","lineHeight":19.5},"encoding":{"x":{"datum":1.1229},"y":{"datum":67.13}}},
 {"data":{"values":[{}]},"mark":{"type":"text","text":["drift","EL"],"fontSize":13,"fontWeight":"bold","align":"left","baseline":"alphabetic","lineHeight":22.5,"dx":14,"dy":4},"encoding":{"x":{"datum":1.1229},"y":{"datum":67.13}}},
 {"data":{"values":[{}]},"mark":{"type":"text","text":["= 13 V/cm/atm","= 900 V/cm/atm"],"fontSize":19,"fontWeight":"bold","align":"left","baseline":"alphabetic","lineHeight":19.5,"dx":42.5},"encoding":{"x":{"datum":1.1229},"y":{"datum":67.13}}},
 {"data":{"values":[{}]},"mark":{"type":"text","text":["inverted","columnar-like"],"fontSize":32,"fill":"#548235","align":"left","baseline":"alphabetic","lineHeight":39},"encoding":{"x":{"datum":0.6943},"y":{"datum":47.0}}},
 {"data":{"values":[{}]},"mark":{"type":"text","text":"columnar-like","fontSize":32,"fill":"#548235","align":"left","baseline":"alphabetic"},"encoding":{"x":{"datum":1.48},"y":{"datum":13.83}}},
 {"data":{"values":[{}]},"mark":{"type":"point","shape":"M0,0.8L1,0L0.45,0L0.45,-0.8L-0.45,-0.8L-0.45,0L-1,0Z","size":1369,"filled":true,"fill":"#70ad47","stroke":"#000","strokeWidth":2,"opacity":1},"encoding":{"x":{"datum":0.4157},"y":{"datum":35.37}}},
 {"data":{"values":[{}]},"mark":{"type":"point","shape":"M0,-0.8L1,0L0.45,0L0.45,0.8L-0.45,0.8L-0.45,0L-1,0Z","size":1369,"filled":true,"fill":"#70ad47","stroke":"#000","strokeWidth":2,"opacity":1},"encoding":{"x":{"datum":1.48},"y":{"datum":2.83}}}
]},
{"title":{"text":"Averaged waveform (enlarged)","offset":-3},"width":385,"height":337,"layer":[
 {"data":{"name":"f102"},"mark":{"type":"line","clip":true,"strokeWidth":2,"strokeOpacity":0.85},
  "encoding":{
   "x":{"field":"t","type":"quantitative","scale":{"domain":[-0.2,2],"nice":false,"zero":false},"axis":{"title":"µs","tickCount":500,"labelOverlap":false,"values":[-0.2,-0.1,0,0.1,0.2,0.3,0.4,0.5,0.6,0.7,0.8,0.9,1,1.1,1.2,1.3,1.4,1.5,1.6,1.7,1.8,1.9,2],"labelExpr":"indexof([0,0.5,1,1.5,2], datum.value) >= 0 ? '' + datum.value : ''","labelFontSize":{"condition":{"test":"indexof([0,0.5,1,1.5,2], datum.value) >= 0","value":22},"value":0},"tickSize":{"condition":{"test":"indexof([0,0.5,1,1.5,2], datum.value) >= 0","value":-11},"value":-6}}},
   "y":{"field":"a","type":"quantitative","scale":{"domain":[-10,100],"nice":false,"zero":false},"axis":{"title":"ADC","tickCount":500,"labelOverlap":false,"values":[-10,0,10,20,30,40,50,60,70,80,90,100],"labelExpr":"indexof([0,50,100], datum.value) >= 0 ? '' + datum.value : ''","labelFontSize":{"condition":{"test":"indexof([0,50,100], datum.value) >= 0","value":22},"value":0},"tickSize":{"condition":{"test":"indexof([0,50,100], datum.value) >= 0","value":-11},"value":-6}}},
   "color":{"field":"s","type":"nominal","scale":{"domain":["vertical-like","horizontal-like"],"range":["#ff0000","#0000ff"]},"legend":{"title":null,"orient":"none","legendX":141,"legendY":8,"symbolType":"M-1.4,0H1.4","symbolSize":900,"symbolStrokeWidth":2,"labelFontSize":20,"labelLimit":400,"labelOffset":14,"symbolOffset":9,"padding":4,"rowPadding":8,"strokeColor":"transparent","fillColor":"transparent"}}}},
 {"data":{"values":[{}]},"mark":{"type":"rect","fill":"#fff","stroke":"#000","strokeWidth":2},"encoding":{"x":{"datum":0.6057},"x2":{"datum":1.9371},"y":{"datum":97.06},"y2":{"datum":74.54}}},
 {"data":{"values":[{}]},"mark":{"type":"text","text":["E","E"],"fontSize":19,"fontWeight":"bold","align":"left","baseline":"alphabetic","lineHeight":19.5},"encoding":{"x":{"datum":0.7486},"y":{"datum":67.13}}},
 {"data":{"values":[{}]},"mark":{"type":"text","text":["drift","EL"],"fontSize":13,"fontWeight":"bold","align":"left","baseline":"alphabetic","lineHeight":22.5,"dx":14,"dy":4},"encoding":{"x":{"datum":0.7486},"y":{"datum":67.13}}},
 {"data":{"values":[{}]},"mark":{"type":"text","text":["= 102 V/cm/atm","= 900 V/cm/atm"],"fontSize":19,"fontWeight":"bold","align":"left","baseline":"alphabetic","lineHeight":19.5,"dx":42.5},"encoding":{"x":{"datum":0.7486},"y":{"datum":67.13}}},
 {"data":{"values":[{}]},"mark":{"type":"text","text":"no difference","fontSize":32,"fill":"#548235","align":"left","baseline":"alphabetic"},"encoding":{"x":{"datum":0.8114},"y":{"datum":23.85}}}
]}
],
"config":{
 "font":"Liberation Sans",
 "view":{"stroke":"#000","strokeWidth":2},
 "title":{"fontSize":20,"fontWeight":"normal","color":"#000","anchor":"middle","frame":"group","dx":-26,"baseline":"alphabetic","offset":8},
 "axis":{"grid":false,"domain":false,"labelFont":"Liberation Sans","labelFontSize":22,"labelColor":"#000","tickColor":"#000","tickWidth":1.5,"titleFont":"Liberation Sans","titleFontSize":22,"titleFontWeight":"normal","titleColor":"#000","labelOverlap":false,"labelFlush":false,"labelBound":false},
 "axisX":{"labelPadding":14.5,"titleX":385,"titleY":45,"titleAlign":"right","titleBaseline":"alphabetic"},
 "axisY":{"labelPadding":13,"titleX":-54,"titleY":0,"titleAngle":270,"titleAlign":"right","titleBaseline":"middle"},
 "legend":{"labelFont":"Liberation Sans","labelColor":"#000"},
 "text":{"font":"Liberation Sans","color":"#000"}
}
}
